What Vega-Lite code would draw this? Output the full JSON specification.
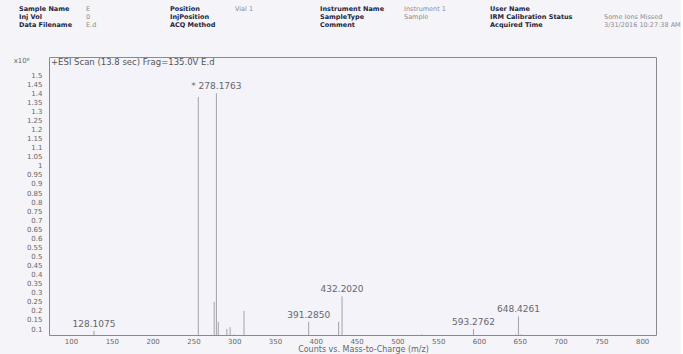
{
  "$schema": "https://vega.github.io/schema/vega-lite/v6.json",
  "background": "#f5f5f9",
  "padding": {"left": 12, "top": 5, "right": 0, "bottom": 0},
  "bounds": "flush",
  "spacing": 22,
  "config": {"view": {"stroke": null}, "font": "DejaVu Sans"},
  "datasets": {
    "header": [
      {"row": 1, "col": 1, "kind": "label", "text": "Sample Name"},
      {"row": 1, "col": 2, "kind": "value", "text": "E"},
      {"row": 1, "col": 3, "kind": "label", "text": "Position"},
      {"row": 1, "col": 4, "kind": "value", "text": "Vial 1"},
      {"row": 1, "col": 5, "kind": "label", "text": "Instrument Name"},
      {"row": 1, "col": 6, "kind": "value", "text": "Instrument 1"},
      {"row": 1, "col": 7, "kind": "label", "text": "User Name"},
      {"row": 2, "col": 1, "kind": "label", "text": "Inj Vol"},
      {"row": 2, "col": 2, "kind": "value", "text": "0"},
      {"row": 2, "col": 3, "kind": "label", "text": "InjPosition"},
      {"row": 2, "col": 5, "kind": "label", "text": "SampleType"},
      {"row": 2, "col": 6, "kind": "value", "text": "Sample"},
      {"row": 2, "col": 7, "kind": "label", "text": "IRM Calibration Status"},
      {"row": 2, "col": 8, "kind": "value", "text": "Some Ions Missed"},
      {"row": 3, "col": 1, "kind": "label", "text": "Data Filename"},
      {"row": 3, "col": 2, "kind": "value", "text": "E.d"},
      {"row": 3, "col": 3, "kind": "label", "text": "ACQ Method"},
      {"row": 3, "col": 5, "kind": "label", "text": "Comment"},
      {"row": 3, "col": 7, "kind": "label", "text": "Acquired Time"},
      {"row": 3, "col": 8, "kind": "value", "text": "3/31/2016 10:27:38 AM"}
    ],
    "peaks": [
      {"mz": 128.1075, "intensity": 0.09, "label": "128.1075"},
      {"mz": 256.0, "intensity": 1.38, "label": ""},
      {"mz": 275.5, "intensity": 0.25, "label": ""},
      {"mz": 278.1763, "intensity": 1.40, "label": "* 278.1763"},
      {"mz": 280.5, "intensity": 0.14, "label": ""},
      {"mz": 291.0, "intensity": 0.10, "label": ""},
      {"mz": 295.0, "intensity": 0.11, "label": ""},
      {"mz": 300.0, "intensity": 0.07, "label": ""},
      {"mz": 312.0, "intensity": 0.20, "label": ""},
      {"mz": 391.285, "intensity": 0.14, "label": "391.2850"},
      {"mz": 428.0, "intensity": 0.14, "label": ""},
      {"mz": 432.202, "intensity": 0.28, "label": "432.2020"},
      {"mz": 530.0, "intensity": 0.07, "label": ""},
      {"mz": 593.2762, "intensity": 0.10, "label": "593.2762"},
      {"mz": 645.0, "intensity": 0.07, "label": ""},
      {"mz": 648.4261, "intensity": 0.17, "label": "648.4261"},
      {"mz": 652.0, "intensity": 0.07, "label": ""}
    ]
  },
  "vconcat": [
    {
      "width": 607,
      "height": 30,
      "data": {"name": "header"},
      "encoding": {
        "x": {"field": "col", "type": "quantitative", "scale": {"domain": [1, 2, 3, 4, 5, 6, 7, 8], "range": [-30, 37, 121, 186, 271, 355, 441, 555]}, "axis": null},
        "y": {"field": "row", "type": "quantitative", "scale": {"domain": [1, 3], "range": [4, 20]}, "axis": null},
        "text": {"field": "text"}
      },
      "layer": [
        {"transform": [{"filter": "datum.kind === 'label'"}], "mark": {"type": "text", "align": "left", "baseline": "middle", "fontSize": 6.5, "fontWeight": "bold", "color": "#1d2540"}},
        {"transform": [{"filter": "datum.kind === 'value'"}], "mark": {"type": "text", "align": "left", "baseline": "middle", "fontSize": 6.5, "color": "#8a8a96"}}
      ]
    },
    {
      "width": 607,
      "height": 278,
      "view": {"stroke": "#8a8a8a", "fill": "#f3f3f9"},
      "data": {"name": "peaks"},
      "layer": [
        {
          "mark": {"type": "rule", "color": "#a2a2aa", "strokeWidth": 1, "clip": true},
          "encoding": {
            "x": {"field": "mz", "type": "quantitative", "scale": {"domain": [73, 817], "nice": false, "zero": false},
              "axis": {"values": [100, 150, 200, 250, 300, 350, 400, 450, 500, 550, 600, 650, 700, 750, 800], "tickCount": 100, "title": "Counts vs. Mass-to-Charge (m/z)", "grid": false, "ticks": false, "domain": false, "labelFontSize": 7, "labelColor": "#666", "labelPadding": 2, "labelOverlap": false, "titleFontSize": 8, "titleFontWeight": "normal", "titleColor": "#666", "titlePadding": 1, "titleX": 314}},
            "y": {"field": "intensity", "type": "quantitative", "scale": {"domain": [0.067, 1.6], "nice": false, "zero": false},
              "axis": {"values": [0.1, 0.15, 0.2, 0.25, 0.3, 0.35, 0.4, 0.45, 0.5, 0.55, 0.6, 0.65, 0.7, 0.75, 0.8, 0.85, 0.9, 0.95, 1, 1.05, 1.1, 1.15, 1.2, 1.25, 1.3, 1.35, 1.4, 1.45, 1.5], "tickCount": 100, "format": ".3~f", "title": "x10⁶", "titleAngle": 0, "titleAlign": "right", "titleBaseline": "middle", "titleX": -20, "titleY": 3, "titleFontSize": 7, "titleFontWeight": "normal", "titleColor": "#666", "labelFontSize": 7, "labelColor": "#666", "labelPadding": 7, "ticks": false, "domain": false, "grid": false, "labelOverlap": false}},
            "y2": {"datum": 0}
          }
        },
        {
          "transform": [{"filter": "datum.label != ''"}],
          "mark": {"type": "text", "baseline": "bottom", "dy": -2, "fontSize": 9, "color": "#66666e"},
          "encoding": {
            "x": {"field": "mz", "type": "quantitative"},
            "y": {"field": "intensity", "type": "quantitative"},
            "text": {"field": "label"}
          }
        },
        {
          "data": {"values": [{"mz": 73, "intensity": 1.6, "title": "+ESI Scan (13.8 sec) Frag=135.0V E.d"}]},
          "mark": {"type": "text", "align": "left", "baseline": "top", "dx": 2, "dy": 1, "fontSize": 8.5, "color": "#555"},
          "encoding": {
            "x": {"field": "mz", "type": "quantitative"},
            "y": {"field": "intensity", "type": "quantitative"},
            "text": {"field": "title"}
          }
        }
      ]
    }
  ]
}
